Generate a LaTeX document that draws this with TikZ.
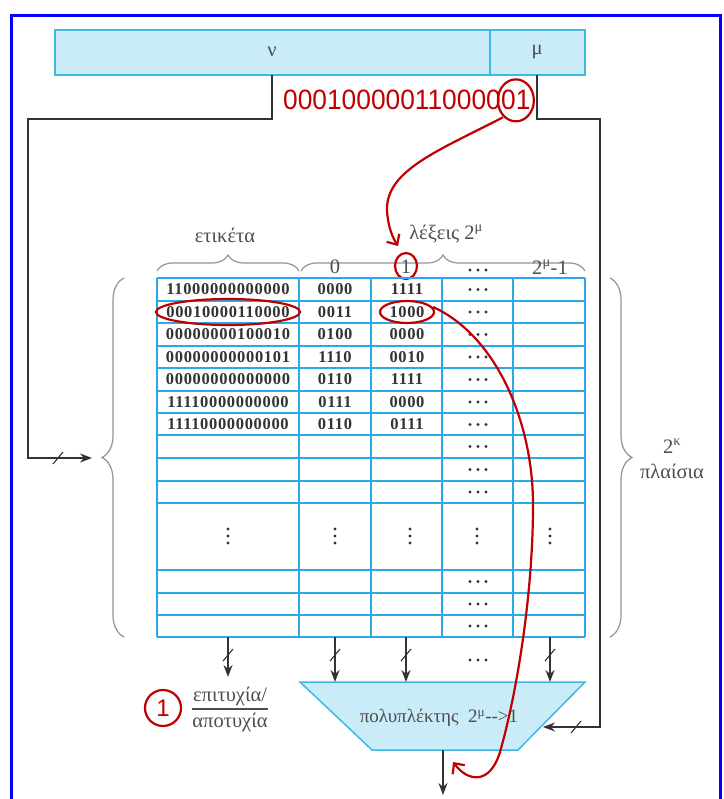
\documentclass[tikz,border=0pt]{standalone}
\usepackage{fontspec}
\setmainfont{Liberation Serif}
\newfontfamily\redsans{Liberation Sans}
\newfontfamily\tabfont[LetterSpace=4]{Liberation Serif}
\usetikzlibrary{arrows.meta,decorations.pathreplacing,calc}
\definecolor{tblue}{HTML}{29A9E6}
\definecolor{barfill}{HTML}{C9ECF8}
\definecolor{barline}{HTML}{3DB9E2}
\definecolor{dred}{HTML}{C00000}
\definecolor{frameblue}{HTML}{0000FF}
\definecolor{ink}{HTML}{333333}
\definecolor{gtxt}{HTML}{4D4D4D}
\begin{document}
\begin{tikzpicture}[x=1pt,y=-1pt,
  wire/.style={draw=ink, line width=1.5pt},
  arr/.style={wire, -{Stealth[length=12pt,width=9pt]}},
  tick/.style={draw=ink, line width=1.1pt},
  redline/.style={draw=dred, line width=2.2pt},
  redarr/.style={redline, -{Straight Barb[length=8pt,width=15pt,line width=2.2pt]}},
  lbl/.style={text=gtxt, font=\fontsize{20.5}{22}\selectfont, inner sep=0pt},
  cell/.style={text=ink, font=\tabfont\bfseries\fontsize{16.5}{16.5}\selectfont, inner sep=0pt},
  bits/.style={text=dred, font=\redsans\fontsize{28}{28}\selectfont, inner sep=0pt},
  bracedec/.style={draw=gray!85, line width=1.2pt, decorate, decoration={brace, amplitude=#1}},
  grid/.style={draw=tblue, line width=2pt},
  hdots/.pic={\foreach \i in {-8,0,8} \fill[ink] (\i,0) circle (1.7pt);},
  vdots/.pic={\foreach \i in {-7,0,7} \fill[ink] (0,\i) circle (1.7pt);}
]
\useasboundingbox (0,0) rectangle (723,799);
\fill[white] (0,0) rectangle (723,799);
\draw[frameblue, line width=3pt] (11.5,799) -- (11.5,15.5) -- (720.5,15.5) -- (720.5,799);

% top bar
\draw[fill=barfill, draw=barline, line width=1.5pt] (55,30) rectangle (585,75);
\draw[barline, line width=1.5pt] (490,30) -- (490,75);
\node[lbl] (nu) at (272,52) {ν};
\node[lbl] (mu) at (537,52) {μ};
\coordinate (nubot) at (272,75);
\coordinate (mubot) at (537,75);

% address bits
\node[bits, anchor=base west] (bits) at (283,110) {\scalebox{0.94}[1]{000100000110000}};
\node[bits, anchor=base west] (lsb) at (bits.base east) {\scalebox{0.94}[1]{01}};
\draw[redline] (lsb.center) ellipse [x radius=18pt, y radius=21pt];

% wires from address
\coordinate (tagin) at (92,458);
\coordinate (muxin) at (543,727);
\draw[arr] (nubot) |- (28,119) |- (tagin);
\draw[arr] (mubot) |- (600,119) |- (muxin);
\draw[tick] (53,464) -- (63,452);
\draw[tick] (571,733) -- (581,721);

% header
\node[lbl] (etik) at (225,235) {ετικέτα};
\node[lbl] (lex) at (446,234) {λέξεις 2\textsuperscript{μ}};
\draw[bracedec=16pt] (157,271) -- (299,271);
\draw[bracedec=16pt] (301,271) -- (585,271);
\node[lbl] (h0) at (335,267) {0};
\node[lbl] (h1) at (406,267) {1};
\pic at (478,270) {hdots};
\node[lbl] (hl) at (550,267) {2\textsuperscript{μ}-1};
\draw[redline] (406,266) ellipse [x radius=11pt, y radius=13pt];

% table grid
\foreach \y in {278,301,323,346,368,391,413,435,458,481,503,570,593,615,637}
  \draw[grid] (157,\y) -- (585,\y);
\foreach \x in {157,299,371,442,513,585}
  \draw[grid] (\x,278) -- (\x,637);

% table contents
\foreach \t/\a/\b [count=\i from 0] in {11000000000000/0000/1111,00010000110000/0011/1000,00000000100010/0100/0000,00000000000101/1110/0010,00000000000000/0110/1111,11110000000000/0111/0000,11110000000000/0110/0111}{
  \node[cell] (t\i) at (228,{289.5+22.5*\i}) {\t};
  \node[cell] (a\i) at (335,{289.5+22.5*\i}) {\a};
  \node[cell] (w\i) at (407,{289.5+22.5*\i}) {\b};
}
\foreach \y in {289.5,312,334.5,357,379.5,402,424.5,446.5,469.5,492,581.5,604,626}
  \pic at (478,\y) {hdots};
\foreach \x in {228,335,410,477,550}
  \pic at (\x,536) {vdots};
\draw[redline] (t1.center) ellipse [x radius=72pt, y radius=13pt];
\draw[redline] (w1.center) ellipse [x radius=27pt, y radius=11pt];

% braces left/right
\draw[bracedec=22pt] (124,637) -- (124,278);
\draw[bracedec=22pt] (610,278) -- (610,637);
\node[lbl] (k) at (672,446) {2\textsuperscript{κ}};
\node[lbl] (plais) at (672,471) {πλαίσια};

% outputs of table
\coordinate (o0) at (228,637); \coordinate (m0) at (228,677);
\coordinate (o1) at (335,637); \coordinate (m1) at (335,682);
\coordinate (o2) at (406,637); \coordinate (m2) at (406,682);
\coordinate (o3) at (550,637); \coordinate (m3) at (550,682);
\foreach \j in {0,1,2,3} \draw[arr] (o\j) -- (m\j);
\foreach \x in {228,335,406,550} \draw[tick] (\x-5,661) -- (\x+5,649);
\pic at (478,660) {hdots};

% multiplexer
\draw[fill=barfill, draw=barline, line width=1.5pt] (300,682) -- (585,682) -- (518,750) -- (372,750) -- cycle;
\node[lbl, font=\fontsize{19}{21}\selectfont] (mux) at (439,718) {πολυπλέκτης\ \ 2\textsuperscript{μ}-{}-{}>1};
\coordinate (muxout) at (443,750);
\coordinate (dataout) at (443,795);
\draw[arr] (muxout) -- (dataout);

% hit / miss
\node[lbl] (ok) at (230,696) {επιτυχία/};
\node[lbl] (fail) at (230,722) {αποτυχία};
\draw[draw=gtxt, line width=1.2pt] (192,709) -- (268,709);
\node[draw=dred, circle, line width=2.2pt, minimum size=36pt, inner sep=0pt, text=dred, font=\redsans\fontsize{24}{24}\selectfont] (one) at (163,708) {1};

% red arrows
\draw[redarr] ($(lsb.center)+(-13,17)$) .. controls (440,150) and (386,170) .. (387,210) .. controls (388,228) and (393,238) .. ($(h1.center)+(-8,-21)$);
\draw[redarr] ($(w1.center)+(26,-5)$) .. controls (495,335) and (533,420) .. (533,505) .. controls (533,600) and (515,700) .. (500,752) .. controls (490,785) and (468,782) .. (453,762);
\end{tikzpicture}
\end{document}
